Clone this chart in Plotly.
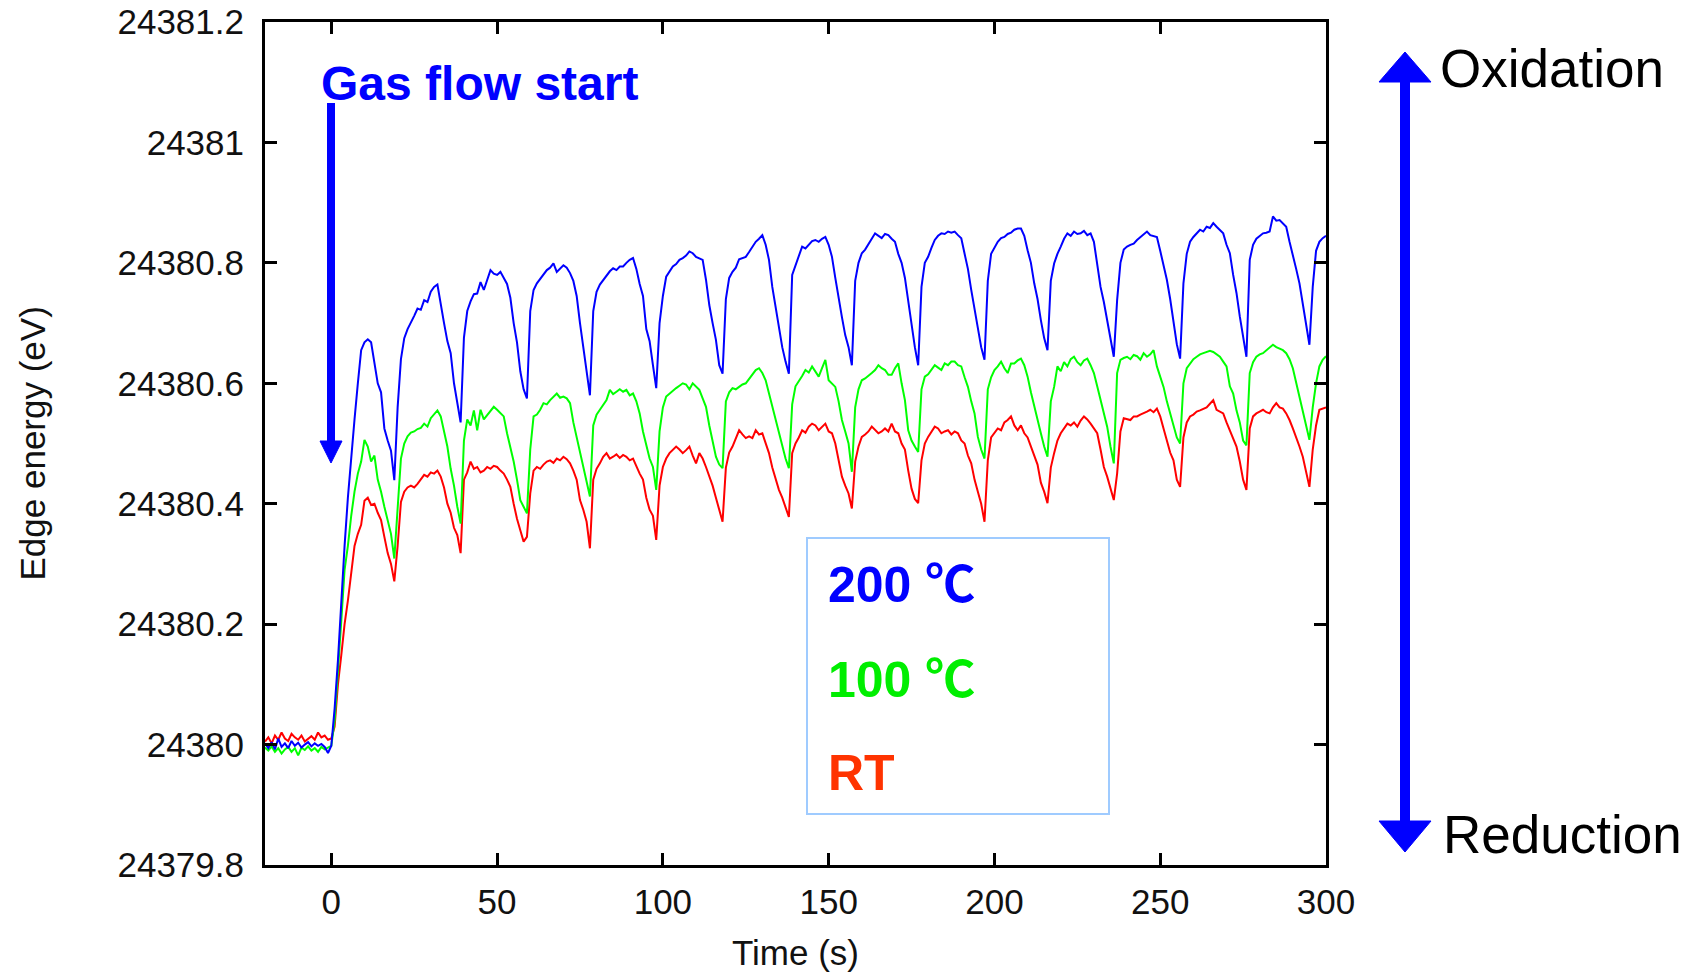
import plotly.graph_objects as go

# ---------------- data ----------------
time_s = list(range(-20, 301))  # 1 s sampling, -20 s ... 300 s

edge_200C = [
    # t = -20 .. 0
    24380.002, 24379.994, 24380.004, 24379.992, 24380.010, 24379.996, 24380.002, 24379.994, 24380.006, 24379.998,
    24380.003, 24379.995, 24380.000, 24380.004, 24379.997, 24380.002, 24379.998, 24380.001, 24379.996, 24379.986,
    24379.998,
    # t = 1 .. 19
    24380.060, 24380.140, 24380.240, 24380.330, 24380.410, 24380.480, 24380.540, 24380.600, 24380.655, 24380.668,
    24380.673, 24380.668, 24380.630, 24380.600, 24380.585, 24380.525, 24380.505, 24380.488, 24380.439,
    # t = 20 .. 39
    24380.560, 24380.640, 24380.675, 24380.690, 24380.700, 24380.712, 24380.724, 24380.722, 24380.738, 24380.735,
    24380.752, 24380.760, 24380.764, 24380.735, 24380.700, 24380.670, 24380.650, 24380.600, 24380.567, 24380.535,
    # t = 40 .. 59
    24380.676, 24380.720, 24380.736, 24380.748, 24380.749, 24380.768, 24380.755, 24380.772, 24380.788, 24380.782,
    24380.780, 24380.785, 24380.774, 24380.765, 24380.742, 24380.700, 24380.668, 24380.620, 24380.590, 24380.575,
    # t = 60 .. 78
    24380.720, 24380.755, 24380.766, 24380.774, 24380.780, 24380.788, 24380.792, 24380.799, 24380.785, 24380.790,
    24380.796, 24380.792, 24380.783, 24380.770, 24380.745, 24380.700, 24380.660, 24380.620, 24380.580,
    # t = 79 .. 98
    24380.720, 24380.752, 24380.764, 24380.772, 24380.778, 24380.786, 24380.791, 24380.788, 24380.794, 24380.794,
    24380.800, 24380.805, 24380.808, 24380.790, 24380.765, 24380.745, 24380.690, 24380.670, 24380.630, 24380.592,
    # t = 99 .. 118
    24380.700, 24380.745, 24380.777, 24380.785, 24380.794, 24380.798, 24380.805, 24380.808, 24380.812, 24380.819,
    24380.816, 24380.810, 24380.808, 24380.805, 24380.772, 24380.730, 24380.700, 24380.672, 24380.630, 24380.616,
    # t = 119 .. 138
    24380.740, 24380.775, 24380.785, 24380.792, 24380.806, 24380.808, 24380.810, 24380.818, 24380.827, 24380.835,
    24380.840, 24380.846, 24380.830, 24380.805, 24380.760, 24380.725, 24380.694, 24380.660, 24380.636, 24380.616,
    # t = 139 .. 157
    24380.780, 24380.795, 24380.810, 24380.827, 24380.824, 24380.830, 24380.836, 24380.838, 24380.835, 24380.840,
    24380.843, 24380.830, 24380.810, 24380.775, 24380.740, 24380.710, 24380.680, 24380.660, 24380.630,
    # t = 158 .. 177
    24380.770, 24380.800, 24380.816, 24380.822, 24380.830, 24380.840, 24380.849, 24380.845, 24380.841, 24380.848,
    24380.846, 24380.840, 24380.835, 24380.815, 24380.800, 24380.775, 24380.738, 24380.694, 24380.660, 24380.630,
    # t = 178 .. 197
    24380.760, 24380.800, 24380.810, 24380.825, 24380.838, 24380.845, 24380.849, 24380.848, 24380.852, 24380.850,
    24380.852, 24380.846, 24380.841, 24380.815, 24380.790, 24380.755, 24380.722, 24380.690, 24380.660, 24380.639,
    # t = 198 .. 216
    24380.770, 24380.815, 24380.826, 24380.835, 24380.841, 24380.843, 24380.848, 24380.850, 24380.855, 24380.857,
    24380.857, 24380.845, 24380.821, 24380.800, 24380.766, 24380.740, 24380.705, 24380.675, 24380.655,
    # t = 217 .. 236
    24380.770, 24380.799, 24380.815, 24380.827, 24380.840, 24380.849, 24380.845, 24380.852, 24380.848, 24380.849,
    24380.853, 24380.846, 24380.849, 24380.835, 24380.800, 24380.760, 24380.735, 24380.705, 24380.675, 24380.644,
    # t = 237 .. 256
    24380.738, 24380.800, 24380.822, 24380.827, 24380.830, 24380.832, 24380.838, 24380.843, 24380.847, 24380.852,
    24380.846, 24380.844, 24380.843, 24380.820, 24380.795, 24380.772, 24380.740, 24380.700, 24380.665, 24380.641,
    # t = 257 .. 276
    24380.766, 24380.815, 24380.835, 24380.843, 24380.850, 24380.855, 24380.852, 24380.860, 24380.858, 24380.866,
    24380.860, 24380.855, 24380.849, 24380.830, 24380.816, 24380.780, 24380.750, 24380.711, 24380.675, 24380.644,
    # t = 277 .. 295
    24380.805, 24380.830, 24380.840, 24380.845, 24380.849, 24380.850, 24380.852, 24380.877, 24380.870, 24380.871,
    24380.865, 24380.860, 24380.835, 24380.810, 24380.790, 24380.766, 24380.730, 24380.700, 24380.664,
    # t = 296 .. 300
    24380.760, 24380.820, 24380.835, 24380.841, 24380.845,
]

edge_100C = [
    # t = -20 .. 0
    24379.995, 24379.990, 24379.997, 24379.988, 24379.994, 24379.985, 24379.992, 24379.996, 24379.988, 24379.994,
    24379.982, 24379.995, 24379.991, 24379.997, 24379.990, 24379.994, 24379.988, 24379.996, 24379.992, 24379.995,
    24379.998,
    # t = 1 .. 19
    24380.040, 24380.130, 24380.205, 24380.290, 24380.330, 24380.380, 24380.420, 24380.450, 24380.470, 24380.506,
    24380.495, 24380.470, 24380.480, 24380.440, 24380.420, 24380.395, 24380.370, 24380.350, 24380.309,
    # t = 20 .. 39
    24380.400, 24380.475, 24380.500, 24380.512, 24380.518, 24380.520, 24380.524, 24380.526, 24380.533, 24380.528,
    24380.542, 24380.548, 24380.555, 24380.545, 24380.520, 24380.495, 24380.458, 24380.430, 24380.395, 24380.367,
    # t = 40 .. 59
    24380.505, 24380.540, 24380.530, 24380.555, 24380.522, 24380.556, 24380.540, 24380.547, 24380.552, 24380.561,
    24380.556, 24380.550, 24380.545, 24380.517, 24380.495, 24380.470, 24380.440, 24380.406, 24380.395, 24380.384,
    # t = 60 .. 78
    24380.490, 24380.545, 24380.548, 24380.556, 24380.567, 24380.565, 24380.572, 24380.578, 24380.583, 24380.576,
    24380.578, 24380.575, 24380.567, 24380.535, 24380.510, 24380.490, 24380.461, 24380.440, 24380.412,
    # t = 79 .. 98
    24380.530, 24380.548, 24380.556, 24380.565, 24380.572, 24380.589, 24380.582, 24380.586, 24380.590, 24380.586,
    24380.589, 24380.580, 24380.583, 24380.570, 24380.550, 24380.520, 24380.495, 24380.475, 24380.461, 24380.423,
    # t = 99 .. 118
    24380.520, 24380.560, 24380.578, 24380.583, 24380.588, 24380.592, 24380.596, 24380.600, 24380.598, 24380.590,
    24380.600, 24380.595, 24380.589, 24380.575, 24380.561, 24380.530, 24380.505, 24380.478, 24380.465, 24380.459,
    # t = 119 .. 138
    24380.570, 24380.585, 24380.592, 24380.590, 24380.594, 24380.598, 24380.600, 24380.608, 24380.614, 24380.622,
    24380.625, 24380.617, 24380.605, 24380.583, 24380.560, 24380.539, 24380.515, 24380.495, 24380.475, 24380.459,
    # t = 139 .. 157
    24380.565, 24380.595, 24380.603, 24380.612, 24380.622, 24380.618, 24380.628, 24380.620, 24380.611, 24380.625,
    24380.639, 24380.605, 24380.600, 24380.594, 24380.570, 24380.539, 24380.520, 24380.500, 24380.453,
    # t = 158 .. 177
    24380.560, 24380.590, 24380.605, 24380.608, 24380.612, 24380.617, 24380.622, 24380.630, 24380.625, 24380.622,
    24380.614, 24380.614, 24380.625, 24380.633, 24380.600, 24380.572, 24380.522, 24380.505, 24380.495, 24380.486,
    # t = 178 .. 197
    24380.590, 24380.611, 24380.615, 24380.622, 24380.630, 24380.626, 24380.622, 24380.633, 24380.630, 24380.636,
    24380.636, 24380.630, 24380.628, 24380.610, 24380.594, 24380.570, 24380.550, 24380.511, 24380.490, 24380.475,
    # t = 198 .. 216
    24380.590, 24380.610, 24380.622, 24380.628, 24380.636, 24380.625, 24380.617, 24380.633, 24380.633, 24380.638,
    24380.641, 24380.630, 24380.611, 24380.585, 24380.561, 24380.540, 24380.517, 24380.495, 24380.478,
    # t = 217 .. 236
    24380.570, 24380.594, 24380.628, 24380.620, 24380.635, 24380.628, 24380.640, 24380.644, 24380.635, 24380.630,
    24380.638, 24380.641, 24380.630, 24380.617, 24380.595, 24380.572, 24380.550, 24380.528, 24380.495, 24380.467,
    # t = 237 .. 256
    24380.617, 24380.639, 24380.642, 24380.644, 24380.640, 24380.647, 24380.645, 24380.639, 24380.650, 24380.644,
    24380.648, 24380.655, 24380.628, 24380.610, 24380.594, 24380.570, 24380.550, 24380.530, 24380.510, 24380.500,
    # t = 257 .. 276
    24380.600, 24380.625, 24380.633, 24380.640, 24380.644, 24380.648, 24380.650, 24380.652, 24380.654, 24380.652,
    24380.648, 24380.644, 24380.636, 24380.628, 24380.595, 24380.583, 24380.555, 24380.535, 24380.505, 24380.497,
    # t = 277 .. 295
    24380.617, 24380.635, 24380.644, 24380.648, 24380.650, 24380.655, 24380.660, 24380.664, 24380.660, 24380.658,
    24380.655, 24380.650, 24380.640, 24380.625, 24380.600, 24380.580, 24380.555, 24380.530, 24380.506,
    # t = 296 .. 300
    24380.560, 24380.600, 24380.628, 24380.639, 24380.645,
]

edge_RT = [
    # t = -20 .. 0
    24380.005, 24380.012, 24380.002, 24380.015, 24380.008, 24380.020, 24380.010, 24380.006, 24380.018, 24380.012,
    24380.008, 24380.015, 24380.005, 24380.010, 24380.014, 24380.008, 24380.020, 24380.012, 24380.015, 24380.008,
    24380.010,
    # t = 1 .. 19
    24380.030, 24380.100, 24380.148, 24380.200, 24380.239, 24380.290, 24380.330, 24380.350, 24380.365, 24380.405,
    24380.410, 24380.398, 24380.400, 24380.385, 24380.373, 24380.345, 24380.318, 24380.300, 24380.271,
    # t = 20 .. 39
    24380.330, 24380.403, 24380.420, 24380.427, 24380.430, 24380.427, 24380.433, 24380.440, 24380.448, 24380.445,
    24380.452, 24380.450, 24380.455, 24380.445, 24380.427, 24380.400, 24380.385, 24380.360, 24380.348, 24380.318,
    # t = 40 .. 59
    24380.440, 24380.452, 24380.470, 24380.458, 24380.461, 24380.452, 24380.455, 24380.461, 24380.458, 24380.463,
    24380.461, 24380.455, 24380.450, 24380.440, 24380.428, 24380.400, 24380.375, 24380.356, 24380.337, 24380.345,
    # t = 60 .. 78
    24380.417, 24380.455, 24380.461, 24380.458, 24380.465, 24380.470, 24380.472, 24380.468, 24380.475, 24380.472,
    24380.478, 24380.474, 24380.467, 24380.455, 24380.440, 24380.406, 24380.390, 24380.370, 24380.326,
    # t = 79 .. 98
    24380.440, 24380.458, 24380.467, 24380.478, 24380.484, 24380.475, 24380.478, 24380.482, 24380.476, 24380.481,
    24380.478, 24380.472, 24380.475, 24380.461, 24380.450, 24380.440, 24380.410, 24380.390, 24380.380, 24380.340,
    # t = 99 .. 118
    24380.430, 24380.461, 24380.475, 24380.484, 24380.490, 24380.495, 24380.490, 24380.484, 24380.489, 24380.495,
    24380.480, 24380.467, 24380.484, 24380.475, 24380.461, 24380.445, 24380.430, 24380.410, 24380.390, 24380.370,
    # t = 119 .. 138
    24380.460, 24380.485, 24380.495, 24380.510, 24380.522, 24380.515, 24380.509, 24380.512, 24380.509, 24380.522,
    24380.515, 24380.517, 24380.500, 24380.484, 24380.460, 24380.440, 24380.423, 24380.410, 24380.395, 24380.378,
    # t = 139 .. 157
    24380.484, 24380.500, 24380.510, 24380.522, 24380.518, 24380.528, 24380.533, 24380.530, 24380.522, 24380.528,
    24380.533, 24380.520, 24380.517, 24380.500, 24380.475, 24380.445, 24380.430, 24380.417, 24380.392,
    # t = 158 .. 177
    24380.470, 24380.495, 24380.511, 24380.515, 24380.520, 24380.528, 24380.522, 24380.517, 24380.520, 24380.525,
    24380.520, 24380.533, 24380.520, 24380.517, 24380.500, 24380.490, 24380.455, 24380.425, 24380.408, 24380.401,
    # t = 178 .. 197
    24380.472, 24380.500, 24380.511, 24380.520, 24380.528, 24380.525, 24380.517, 24380.520, 24380.522, 24380.515,
    24380.520, 24380.517, 24380.505, 24380.500, 24380.480, 24380.467, 24380.440, 24380.420, 24380.400, 24380.370,
    # t = 198 .. 216
    24380.472, 24380.510, 24380.517, 24380.525, 24380.522, 24380.535, 24380.539, 24380.545, 24380.530, 24380.522,
    24380.530, 24380.517, 24380.510, 24380.495, 24380.480, 24380.465, 24380.435, 24380.420, 24380.401,
    # t = 217 .. 236
    24380.460, 24380.484, 24380.505, 24380.517, 24380.525, 24380.533, 24380.530, 24380.535, 24380.528, 24380.538,
    24380.545, 24380.540, 24380.533, 24380.525, 24380.517, 24380.490, 24380.461, 24380.445, 24380.425, 24380.406,
    # t = 237 .. 256
    24380.450, 24380.520, 24380.542, 24380.540, 24380.539, 24380.545, 24380.545, 24380.548, 24380.550, 24380.553,
    24380.556, 24380.552, 24380.558, 24380.545, 24380.525, 24380.506, 24380.485, 24380.472, 24380.440, 24380.428,
    # t = 257 .. 276
    24380.510, 24380.535, 24380.545, 24380.548, 24380.553, 24380.555, 24380.558, 24380.560, 24380.566, 24380.572,
    24380.556, 24380.553, 24380.550, 24380.535, 24380.522, 24380.510, 24380.495, 24380.470, 24380.440, 24380.423,
    # t = 277 .. 295
    24380.525, 24380.545, 24380.550, 24380.553, 24380.556, 24380.552, 24380.550, 24380.560, 24380.567, 24380.560,
    24380.558, 24380.550, 24380.539, 24380.525, 24380.511, 24380.495, 24380.478, 24380.455, 24380.428,
    # t = 296 .. 300
    24380.490, 24380.530, 24380.556, 24380.558, 24380.560,
]

series_names = ["RT", "100 ℃", "200 ℃"]
series_colors = ["#ff0000", "#00ff00", "#0000ff"]
label_colors = ["#ff3300", "#00ee00", "#0000ff"]

x_tick_vals = [0, 50, 100, 150, 200, 250, 300]
y_tick_vals = [24379.8, 24380.0, 24380.2, 24380.4, 24380.6, 24380.8, 24381.0, 24381.2]
y_tick_text = ["24379.8", "24380", "24380.2", "24380.4", "24380.6", "24380.8", "24381", "24381.2"]

# ---------------- layout geometry (screen pixels) ----------------
W, H = 1697, 974
BODY = 0                      # page margin is removed below (post_script)
PL, PR, PT, PB = 265, 1326, 22, 865   # wanted plot-area edges on screen


def fx(px):
    return (px - PL) / (PR - PL)


def fy(py):
    return (PB - py) / (PB - PT)


FONT = "Liberation Sans, Arial, Helvetica, sans-serif"
DEG_SPAN = "<span style=\"font-family:'Noto Sans CJK JP'\">℃</span>"

fig = go.Figure()
for name, ys, col in zip(series_names, [edge_RT, edge_100C, edge_200C], series_colors):
    n = min(len(time_s), len(ys))
    fig.add_trace(go.Scatter(x=time_s[:n], y=ys[:n], mode="lines", name=name,
                             line=dict(color=col, width=2), showlegend=False))

axis_common = dict(showgrid=False, zeroline=False, showline=True, linecolor="black", linewidth=3,
                   mirror="ticks", ticks="inside", ticklen=12, tickwidth=3, tickcolor="black",
                   automargin=False, ticklabeloverflow="allow",
                   tickfont=dict(family=FONT, size=35, color="#111111"))

fig.update_layout(
    width=W, height=H,
    margin=dict(l=PL - BODY, r=W - PR + BODY, t=PT - BODY, b=H - PB + BODY, pad=0, autoexpand=False),
    paper_bgcolor="white", plot_bgcolor="white",
    font=dict(family=FONT, size=35, color="#111111"),
    xaxis=dict(range=[-20, 300], tickmode="array", tickvals=x_tick_vals, ticklabelstandoff=4,
               **axis_common),
    yaxis=dict(range=[24379.8, 24381.2], tickmode="array", tickvals=y_tick_vals, ticktext=y_tick_text,
               ticklabelstandoff=11, **axis_common),
)

annotations = [
    dict(text="Edge energy (eV)", x=fx(32), y=0.5, xref="paper", yref="paper", textangle=-90,
         showarrow=False, font=dict(family=FONT, size=35, color="#111111"), xanchor="center", yanchor="middle"),
    dict(text="Time (s)", x=fx(795), y=fy(952), xref="paper", yref="paper",
         showarrow=False, font=dict(family=FONT, size=35, color="#111111"), xanchor="center", yanchor="middle"),
    dict(text="<b>Gas flow start</b>", x=fx(319), y=fy(83), xref="paper", yref="paper",
         showarrow=False, font=dict(family=FONT, size=48, color="#0000ff"), xanchor="left", yanchor="middle"),
    dict(text="Oxidation", x=fx(1438), y=fy(68), xref="paper", yref="paper",
         showarrow=False, font=dict(family=FONT, size=53, color="black"), xanchor="left", yanchor="middle"),
    dict(text="Reduction", x=fx(1441), y=fy(834), xref="paper", yref="paper",
         showarrow=False, font=dict(family=FONT, size=53, color="black"), xanchor="left", yanchor="middle"),
]
legend_labels = ["200 " + DEG_SPAN, "100 " + DEG_SPAN, "RT"]
for lbl, col, py in zip(legend_labels, [label_colors[2], label_colors[1], label_colors[0]], [580, 675, 773]):
    annotations.append(dict(text="<b>" + lbl + "</b>", x=fx(826), y=fy(py), xref="paper", yref="paper",
                            showarrow=False, font=dict(family=FONT, size=50, color=col),
                            xanchor="left", yanchor="middle"))
fig.update_layout(annotations=annotations)


def tri(x0, y0, x1, y1, x2, y2):
    return (f"M {fx(x0)},{fy(y0)} L {fx(x1)},{fy(y1)} L {fx(x2)},{fy(y2)} Z")


shapes = [
    # legend box
    dict(type="rect", xref="paper", yref="paper", x0=fx(807), x1=fx(1109), y0=fy(814), y1=fy(538),
         line=dict(color="#9fcbff", width=2), fillcolor="rgba(0,0,0,0)"),
    # gas flow arrow
    dict(type="line", xref="paper", yref="paper", x0=fx(331), x1=fx(331), y0=fy(103), y1=fy(443),
         line=dict(color="#0000ff", width=8)),
    dict(type="path", xref="paper", yref="paper", path=tri(320, 441, 342, 441, 331, 463),
         fillcolor="#0000ff", line=dict(color="#0000ff", width=1)),
    # oxidation / reduction double arrow
    dict(type="line", xref="paper", yref="paper", x0=fx(1405), x1=fx(1405), y0=fy(80), y1=fy(823),
         line=dict(color="#0000ff", width=10)),
    dict(type="path", xref="paper", yref="paper", path=tri(1379, 82, 1431, 82, 1405, 52),
         fillcolor="#0000ff", line=dict(color="#0000ff", width=1)),
    dict(type="path", xref="paper", yref="paper", path=tri(1379, 821, 1431, 821, 1405, 852),
         fillcolor="#0000ff", line=dict(color="#0000ff", width=1)),
]
fig.update_layout(shapes=shapes)

fig.write_html("out.html",
               config={"displayModeBar": False},
               post_script="document.body.style.margin='0';document.body.style.overflow='hidden';")
